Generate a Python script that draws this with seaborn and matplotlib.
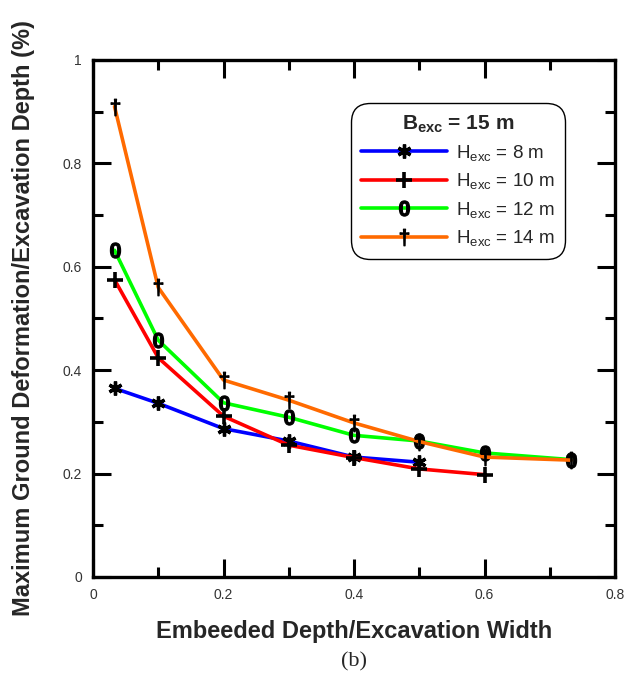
import numpy as np
import pandas as pd
import matplotlib
matplotlib.use("Agg")
import matplotlib.pyplot as plt
from matplotlib.ticker import MultipleLocator, FuncFormatter
import seaborn as sns

# ---- data ----
x_vals = [0.033, 0.1, 0.2, 0.3, 0.4, 0.5, 0.6, 0.733]
h8 = [0.365, 0.336, 0.287, 0.263, 0.232, 0.222]
h10 = [0.575, 0.424, 0.311, 0.255, 0.231, 0.209, 0.198]
h12 = [0.632, 0.458, 0.337, 0.309, 0.274, 0.263, 0.240, 0.227]
h14 = [0.910, 0.560, 0.381, 0.342, 0.298, 0.262, 0.232, 0.226]
labels = [r"H$_{\rm exc}$ = 8 m", r"H$_{\rm exc}$ = 10 m",
          r"H$_{\rm exc}$ = 12 m", r"H$_{\rm exc}$ = 14 m"]
series = [h8, h10, h12, h14]
colors = ["#0000ff", "#ff0000", "#00ff00", "#ff6a00"]
markers = [(6, 2, 0), "+", r"$\mathbf{0}$", r"$\dagger$"]
msizes = [10, 12, 11, 12]
mews = [2.4, 2.6, 0.8, 0.8]

sns.set_theme(style="white")
plt.rcParams["font.family"] = ["Liberation Sans", "DejaVu Sans"]
plt.rcParams["mathtext.fontset"] = "custom"
plt.rcParams["mathtext.rm"] = "Liberation Sans"
plt.rcParams["mathtext.bf"] = "Liberation Sans:bold"
plt.rcParams["mathtext.it"] = "Liberation Sans:italic"

fig = plt.figure(figsize=(6.3, 6.79), dpi=100)
ax = fig.add_axes([93 / 630, 1 - 577 / 679, 522 / 630, 517 / 679])

for ys, lab, c, m, ms, mew in zip(series, labels, colors, markers, msizes, mews):
    df = pd.DataFrame({"x": x_vals[:len(ys)], "y": ys})
    sns.lineplot(data=df, x="x", y="y", ax=ax, color=c, lw=2.6, label=lab,
                 marker=m, markersize=ms, markeredgecolor="black",
                 markerfacecolor="black", markeredgewidth=mew, sort=False)

ax.set_xlim(0, 0.8)
ax.set_ylim(0, 1)
fmt = FuncFormatter(lambda v, p: f"{v:g}")
ax.xaxis.set_major_locator(MultipleLocator(0.2))
ax.xaxis.set_minor_locator(MultipleLocator(0.1))
ax.yaxis.set_major_locator(MultipleLocator(0.2))
ax.yaxis.set_minor_locator(MultipleLocator(0.1))
ax.xaxis.set_major_formatter(fmt)
ax.yaxis.set_major_formatter(fmt)
ax.tick_params(which="both", direction="in", top=True, right=True,
               bottom=True, left=True, width=2.2, color="black",
               labelsize=10, labelcolor="#333333", pad=8)
ax.tick_params(which="major", length=13)
ax.tick_params(which="minor", length=7)
for s in ax.spines.values():
    s.set_linewidth(2.4)
    s.set_color("black")

ax.set_xlabel("Embeeded Depth/Excavation Width", fontsize=17,
              fontweight="bold", labelpad=13)
ax.set_ylabel("Maximum Ground Deformation/Excavation Depth (%)", fontsize=17,
              fontweight="bold", labelpad=20)

leg = ax.legend(loc="upper left", bbox_to_anchor=(0.494, 0.917),
                title=r"$\mathbf{B}_{\mathbf{exc}}$ = 15 m", fontsize=13.5,
                title_fontsize=15, frameon=True, fancybox=True,
                handlelength=4.6, handletextpad=0.45, labelspacing=0.45,
                borderpad=0.55, borderaxespad=0)
leg.get_title().set_fontweight("bold")
frame = leg.get_frame()
frame.set_edgecolor("black")
frame.set_linewidth(1.0)
frame.set_alpha(1)
frame.set_boxstyle("round", pad=0, rounding_size=1.0)

fig.text(0.5 * (93 + 615) / 630, 1 - 662 / 679, "(b)", ha="center",
         va="center", fontsize=16, family=["Liberation Serif", "DejaVu Serif"])

fig.savefig("out.png", dpi=100)
